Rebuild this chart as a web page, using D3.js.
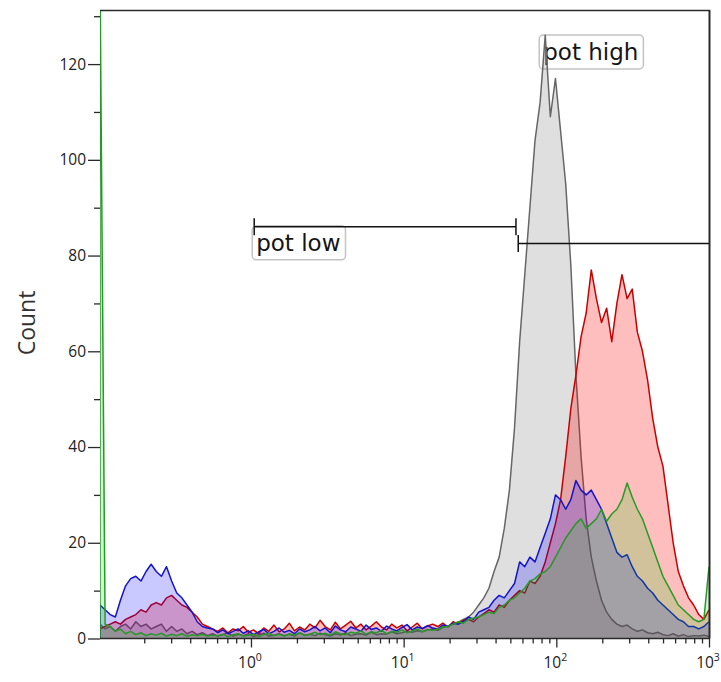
<!DOCTYPE html>
<html>
<head>
<meta charset="utf-8">
<script src="https://cdnjs.cloudflare.com/ajax/libs/d3/7.8.5/d3.min.js"></script>
<style>
  html, body { margin: 0; padding: 0; background: #fff; }
  svg { display: block; }
</style>
</head>
<body>
<svg id="chart" width="721" height="682"></svg>
<script>
// ---------------- DATA ----------------
// histogram bins are spaced evenly on log10 scale between these bounds
const binLogMin = -0.989;
const binLogMax = 3;

const grayCounts = [
  3, 2, 2.5, 1.5, 2.5, 3, 2, 3.5, 2.5, 3, 2, 2.5, 3, 1.5, 2.5, 1.5, 2, 1, 1.5, 0.8, 1.2,
  0.6, 1, 0.5, 0.8, 1.2, 0.5, 0.9, 0.6, 1, 0.4, 0.8, 1.1, 0.5, 0.7, 1, 0.6, 0.9, 0.5, 1.2, 0.7,
  0.9, 0.6, 1.1, 0.8, 0.5, 1, 0.7, 1.2, 0.6, 0.9, 1, 0.7, 1.3, 0.8, 1, 0.9, 1.4, 1, 1.2, 1.5,
  1.3, 1.6, 1.4, 1.8, 2, 1.7, 2.3, 2.6, 3, 3.4, 4,
  4.5, 5.5, 7, 8.5, 10.5, 14, 17, 23, 31, 44,
  62, 76, 90, 104, 112, 126, 109, 117, 106, 95,
  78, 55, 38, 25, 17, 12, 8, 5.5, 4, 3,
  2.5, 2.8, 2, 1.5, 1.8, 1.2, 1, 1.3, 0.8, 0.6,
  1, 0.5, 0.8, 0.4, 0.6, 0.5, 0.7, 0.4
];

const redCounts = [
  2, 2.5, 3, 3.5, 3, 4, 4.5, 5, 6, 5.5, 7, 7.5, 7, 8.5, 9, 8, 7, 6.5, 5.5, 4.5, 3, 2.5, 2,
  1.5, 2.2, 1.2, 2, 1.6, 2.5, 1.3, 1.8, 1, 2.2, 1.5, 2.8, 1.4, 2, 3.2, 1.6, 2.4, 1.8, 3, 2.2,
  3.8, 2.5, 1.8, 3.4, 2, 2.8, 3.6, 2.2, 3, 1.8, 2.6, 3.5, 2.4, 1.8, 3, 2.2, 2.8, 1.6, 2.4, 3.2,
  2, 2.6, 3,
  2.5, 3.2, 2.4, 3.5, 3, 3.8, 4, 3.5, 4.5, 5.2,
  6, 5.5, 7, 6.5, 8, 9, 10, 9.5, 12, 11.5,
  13, 16, 20, 24, 29, 38, 48, 55, 63, 68,
  77, 71, 66, 69, 62, 70, 76, 71, 73, 64,
  60, 54, 46, 40, 36, 28, 20, 14, 11, 8.5,
  7, 5, 4, 6
];

const blueCounts = [
  7, 6, 5, 4.5, 8, 11, 12.5, 13, 12, 14, 15.5, 14, 13, 15, 12, 9.5, 8.5, 7, 5.5, 3.5, 2.5, 2.2, 2,
  1.2, 1.8, 1, 1.5, 2, 1.1, 1.6, 0.8, 1.4, 1.9, 1, 1.5, 2.2, 1.3, 1.7, 1, 2, 1.4, 1.8, 2.5,
  1.6, 2.2, 1.2, 2.6, 1.8, 1.4, 2.4, 2, 1.5, 2.8, 1.9, 2.2, 1.5, 2.6, 2, 1.6, 2.3, 2.9, 1.8, 2.4,
  2.1, 2.7, 2.2,
  2, 2.8, 2.5, 3.2, 3, 3.5, 4.5, 4, 5.5, 6,
  6.5, 8, 9, 8.5, 10, 11.5, 16, 15, 17, 16,
  19, 22, 25, 30, 29, 27, 29, 33, 31, 30,
  31, 29, 27, 24, 21, 18, 17, 17.5, 15, 13,
  12, 10.5, 9.5, 8, 7, 6, 5, 4, 3.5, 2.5,
  2.5, 2, 2.5, 3.5
];

const greenCounts = [
  140, 3, 2.5, 1.5, 2, 1, 1.5, 0.8, 1.2, 0.6, 1, 0.7, 1.1, 0.5, 0.9, 0.6, 1, 0.5, 0.8, 0.6, 0.9, 0.5, 0.7,
  0.6, 0.9, 0.4, 0.8, 1, 0.5, 0.7, 0.9, 0.4, 0.8, 1.1, 0.6, 0.9, 0.5, 1, 0.7, 1.2, 0.6, 0.9, 1.3,
  0.8, 1.1, 0.7, 1.4, 1, 0.8, 1.3, 1.1, 1.6, 0.9, 1.4, 1.2, 1.7, 1, 1.5, 1.3, 1.8, 1.2, 1.6, 2,
  1.4, 1.9, 1.7,
  2, 2.4, 2.5, 3, 3.5, 3.2, 4, 4.3, 4.5, 5,
  5.5, 5.2, 6.5, 7, 8, 8.5, 9.5, 10.5, 12, 12.5,
  13.5, 14, 15, 17, 19, 21, 22.5, 24, 25, 23,
  24, 25, 27, 24.5, 26, 27, 29, 32.5, 29.5, 27,
  25, 22, 19, 16, 13, 11, 9, 7, 6, 5,
  4, 3.5, 4, 15
];

const seriesNames = ["gray", "red", "blue", "green"];

const xDomain = [0.1026, 1000];
const yDomain = [0, 131.3];
const yMajorTicks = [0, 20, 40, 60, 80, 100, 120];
const yMinorTicks = [10, 30, 50, 70, 90, 110, 130];
const xMajorExponents = [0, 1, 2, 3];
const xMinorTicks = [0.2, 0.3, 0.4, 0.5, 0.6, 0.7, 0.8, 0.9,
  2, 3, 4, 5, 6, 7, 8, 9,
  20, 30, 40, 50, 60, 70, 80, 90,
  200, 300, 400, 500, 600, 700, 800, 900];

const gateNames = ["pot low", "pot high"];
const gateX0 = [1.05, 56.3];
const gateX1 = [54.4, 1000];
const gateY = [86.0, 82.5];

const yAxisTitle = "Count";

// ---------------- STYLE / LAYOUT ----------------
const plot = { left: 100, right: 709, top: 10, bottom: 638.5 };
const styles = {
  gray:  { fill: "rgba(128,128,128,0.25)", stroke: "#666666" },
  red:   { fill: "rgba(255,0,0,0.255)",    stroke: "#c80000" },
  blue:  { fill: "rgba(0,0,255,0.21)",     stroke: "#1414c8" },
  green: { fill: "rgba(0,215,0,0.18)",     stroke: "#269a26" }
};
const axisFont = "'Open Sans', 'Noto Sans', sans-serif";
const gateFont = "'DejaVu Sans', Verdana, sans-serif";

const svg = d3.select("#chart");
const x = d3.scaleLog().domain(xDomain).range([plot.left, plot.right]);
const y = d3.scaleLinear().domain(yDomain).range([plot.bottom, plot.top]);

const countsBySeries = { gray: grayCounts, red: redCounts, blue: blueCounts, green: greenCounts };

function binX(i, n) {
  return Math.pow(10, binLogMin + i * (binLogMax - binLogMin) / (n - 1));
}

svg.append("defs").append("clipPath").attr("id", "plotClip")
  .append("rect")
  .attr("x", plot.left).attr("y", plot.top)
  .attr("width", plot.right - plot.left + 1)
  .attr("height", plot.bottom - plot.top + 1);

// gate labels (under the data)
const labelLayer = svg.append("g");
function drawLabel(text, tx, ty) {
  const g = labelLayer.append("g");
  const rect = g.append("rect");
  const t = g.append("text")
    .attr("x", tx).attr("y", ty)
    .attr("font-family", gateFont)
    .attr("font-size", 23)
    .attr("fill", "#151515")
    .text(text);
  const bb = t.node().getBBox();
  rect.attr("x", bb.x - 4).attr("y", bb.y - 4)
    .attr("width", bb.width + 9).attr("height", bb.height + 8)
    .attr("rx", 4).attr("ry", 4)
    .attr("fill", "#fff")
    .attr("stroke", "#c4c4c4")
    .attr("stroke-width", 1.5);
}
drawLabel(gateNames[0], x(gateX0[0]) + 2, y(gateY[0]) + 24);
drawLabel(gateNames[1], x(gateX0[1]) + 25, 60);

// data
const dataLayer = svg.append("g").attr("clip-path", "url(#plotClip)");
seriesNames.forEach(name => {
  const counts = countsBySeries[name];
  const n = counts.length;
  const pts = counts.map((c, i) => ({ x: binX(i, n), y: c }));
  const area = d3.area()
    .x(d => x(d.x)).y0(y(0)).y1(d => y(d.y));
  const line = d3.line().x(d => x(d.x)).y(d => y(d.y));
  dataLayer.append("path")
    .attr("d", area(pts))
    .attr("fill", styles[name].fill)
    .attr("stroke", "none");
  const linePts = [{ x: pts[0].x, y: 0 }].concat(pts);
  dataLayer.append("path")
    .attr("d", line(linePts))
    .attr("fill", "none")
    .attr("stroke", styles[name].stroke)
    .attr("stroke-width", 1.5)
    .attr("stroke-linejoin", "round");
});

// gates
const gateLayer = svg.append("g").attr("stroke", "#111").attr("stroke-width", 1.5);
gateNames.forEach((g, i) => {
  const gx0 = x(gateX0[i]), gx1 = x(gateX1[i]), gy = y(gateY[i]);
  gateLayer.append("line").attr("x1", gx0).attr("x2", gx1).attr("y1", gy).attr("y2", gy);
  gateLayer.append("line").attr("x1", gx0).attr("x2", gx0).attr("y1", gy - 8.5).attr("y2", gy + 8.5);
  if (gateX1[i] < xDomain[1]) {
    gateLayer.append("line").attr("x1", gx1).attr("x2", gx1).attr("y1", gy - 8.5).attr("y2", gy + 8.5);
  }
});

// frame (top & right)
const frame = svg.append("g").attr("stroke", "#2a2a2a").attr("fill", "none");
frame.append("line").attr("x1", plot.left).attr("x2", plot.right + 1)
  .attr("y1", plot.top + 0.5).attr("y2", plot.top + 0.5).attr("stroke-width", 1.5);
frame.append("line").attr("x1", plot.right + 0.5).attr("x2", plot.right + 0.5)
  .attr("y1", plot.top).attr("y2", plot.bottom).attr("stroke-width", 2);

// y axis
const yAxisG = svg.append("g").attr("transform", `translate(${plot.left},0)`);
yAxisG.call(d3.axisLeft(y).tickValues(yMajorTicks).tickSize(12).tickPadding(2).tickFormat(d3.format("d")));
yAxisG.append("g").call(d3.axisLeft(y).tickValues(yMinorTicks).tickSize(6).tickFormat(""))
  .select(".domain").remove();
yAxisG.select(".domain").remove();
yAxisG.selectAll("line").attr("stroke", "#2a2a2a").attr("stroke-width", 1.3);
yAxisG.selectAll("text")
  .attr("font-family", axisFont).attr("font-size", 15.5).attr("fill", "#222");

// x axis
const xAxisG = svg.append("g").attr("transform", `translate(0,${plot.bottom})`);
xAxisG.call(d3.axisBottom(x).tickValues(xMajorExponents.map(e => Math.pow(10, e))).tickSize(9).tickFormat(""));
xAxisG.append("g").call(d3.axisBottom(x).tickValues(xMinorTicks).tickSize(5).tickFormat(""))
  .select(".domain").remove();
xAxisG.select(".domain").attr("d", `M${plot.left},0H${plot.right + 1}`);
xAxisG.selectAll("path, line").attr("stroke", "#2a2a2a").attr("stroke-width", 1.5);
xAxisG.selectAll(".tick line").attr("stroke-width", 1.3);

const xLab = svg.append("g");
xMajorExponents.forEach(e => {
  const t = xLab.append("text")
    .attr("x", x(Math.pow(10, e)) - 1).attr("y", 667.5)
    .attr("text-anchor", "middle")
    .attr("font-family", axisFont).attr("font-size", 15.5).attr("fill", "#222");
  t.append("tspan").text("10");
  t.append("tspan").attr("font-size", 10.5).attr("dy", -6.5).text(String(e));
});

// y title
svg.append("text")
  .attr("transform", `translate(35,323) rotate(-90)`)
  .attr("text-anchor", "middle")
  .attr("font-family", axisFont).attr("font-size", 23).attr("fill", "#333")
  .text(yAxisTitle);
</script>
</body>
</html>
